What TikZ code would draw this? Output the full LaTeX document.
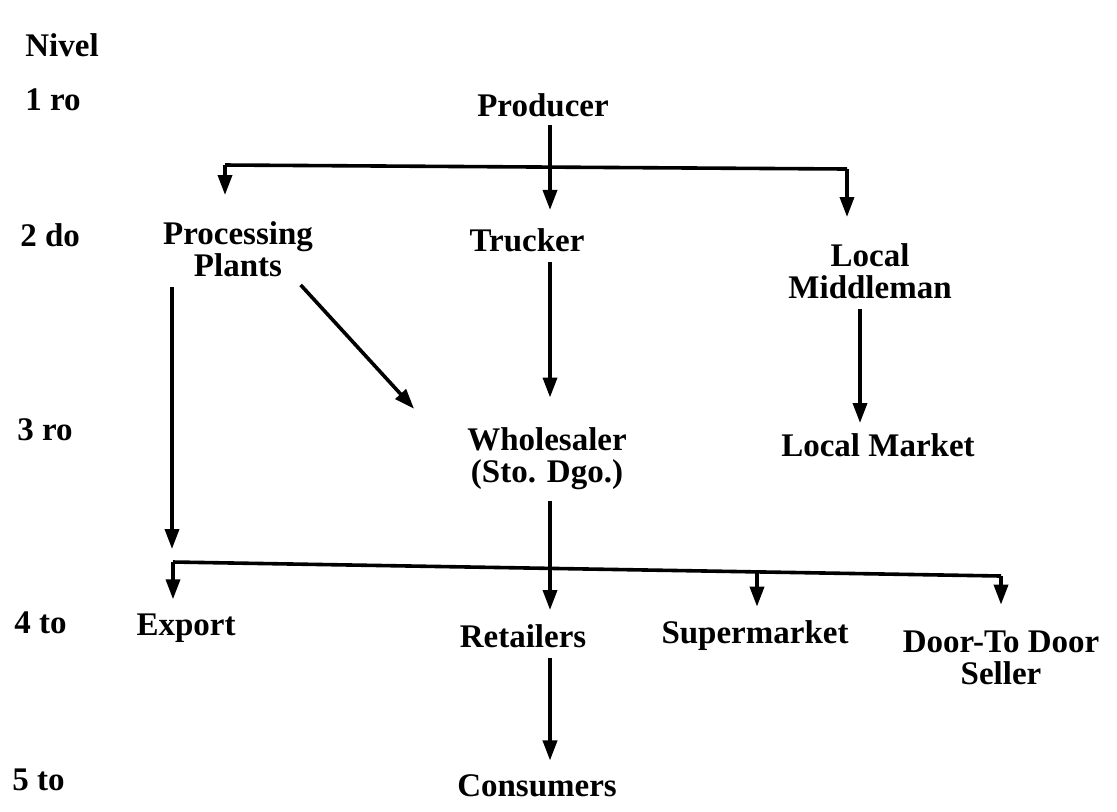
\documentclass[tikz,border=0pt]{standalone}
\usepackage{fontspec}
\setmainfont{Liberation Serif}
\usepackage{tikz}
\usetikzlibrary{arrows.meta, calc}

\begin{document}
\begin{tikzpicture}[
    x=0.5pt, y=-0.5pt,
    every node/.style={font=\fontsize{16.5}{16}\selectfont\bfseries, align=center, inner sep=1pt},
    level/.style={anchor=west},
    rel/.style={-{Triangle[length=10pt, width=7pt]}, line width=1.8pt},
    bus/.style={line width=1.8pt},
]
    \useasboundingbox (0,0) rectangle (1117,811);

    % Level labels
    \node[level] (nivel) at (23,45) {Nivel};
    \node[level] (l1) at (23,100) {1 ro};
    \node[level] (l2) at (18,235) {2 do};
    \node[level] (l3) at (15,430) {3 ro};
    \node[level] (l4) at (12,623) {4 to};
    \node[level] (l5) at (10,780) {5 to};

    % Channel members
    \node (prod) at (543,105) {Producer};
    \node (pp) at (238,249) {Processing\\Plants};
    \node (truck) at (527,240) {Trucker};
    \node (lm) at (870,271) {Local\\Middleman};
    \node (whole) at (547,459) {Wholesaler\\(Sto. Dgo.)};
    \node (lmkt) at (878,445) {Local Market};
    \node (export) at (186,628) {Export};
    \node (retail) at (523,636) {Retailers};
    \node (super) at (755,636) {Supermarket};
    \node (door) at (1001,658) {Door-To Door\\Seller};
    \node (cons) at (537,786) {Consumers};

    % Columns and junctions
    \coordinate (cmid) at (550,0);
    \coordinate (clm) at (860,0);
    \coordinate (ja) at (225,165);
    \coordinate (jb) at (847,169);
    \coordinate (jc) at (173,562);
    \coordinate (jd) at (757,572);
    \coordinate (je) at (1001,576);
    \coordinate (jf) at (172,549);

    % Producer level
    \draw[rel, shorten <=3pt, shorten >=8pt] (prod.south -| cmid) -- (truck.north -| cmid);
    \draw[bus] (ja) -- (jb);
    \draw[rel, shorten >=12pt] (ja) -- (ja |- pp.north);
    \draw[rel, shorten >=12pt] (jb) -- (jb |- lm.north);

    % Second level
    \draw[rel, shorten <=4pt] (pp.south -| jf) -- (jf);
    \draw[rel, shorten <=4pt, shorten >=8pt] ($(pp.south east)+(-20,0)$) -- ($(whole.north west)+(-40,-5)$);
    \draw[rel, shorten <=4pt, shorten >=14pt] (truck.south -| cmid) -- (whole.north -| cmid);
    \draw[rel, shorten <=4pt, shorten >=4pt] (lm.south -| clm) -- (lmkt.north -| clm);

    % Third level
    \draw[bus] (jc) -- (je);
    \draw[rel, shorten <=4pt, shorten >=6pt] (whole.south -| cmid) -- (retail.north -| cmid);
    \draw[rel, shorten >=6pt] (jc) -- (jc |- export.north);
    \draw[rel, shorten >=6pt] (jd) -- (jd |- super.north);
    \draw[rel, shorten >=12pt] (je) -- (je |- door.north);

    % Fourth level
    \draw[rel, shorten <=4pt, shorten >=6pt] (retail.south -| cmid) -- (cons.north -| cmid);
\end{tikzpicture}
\end{document}
